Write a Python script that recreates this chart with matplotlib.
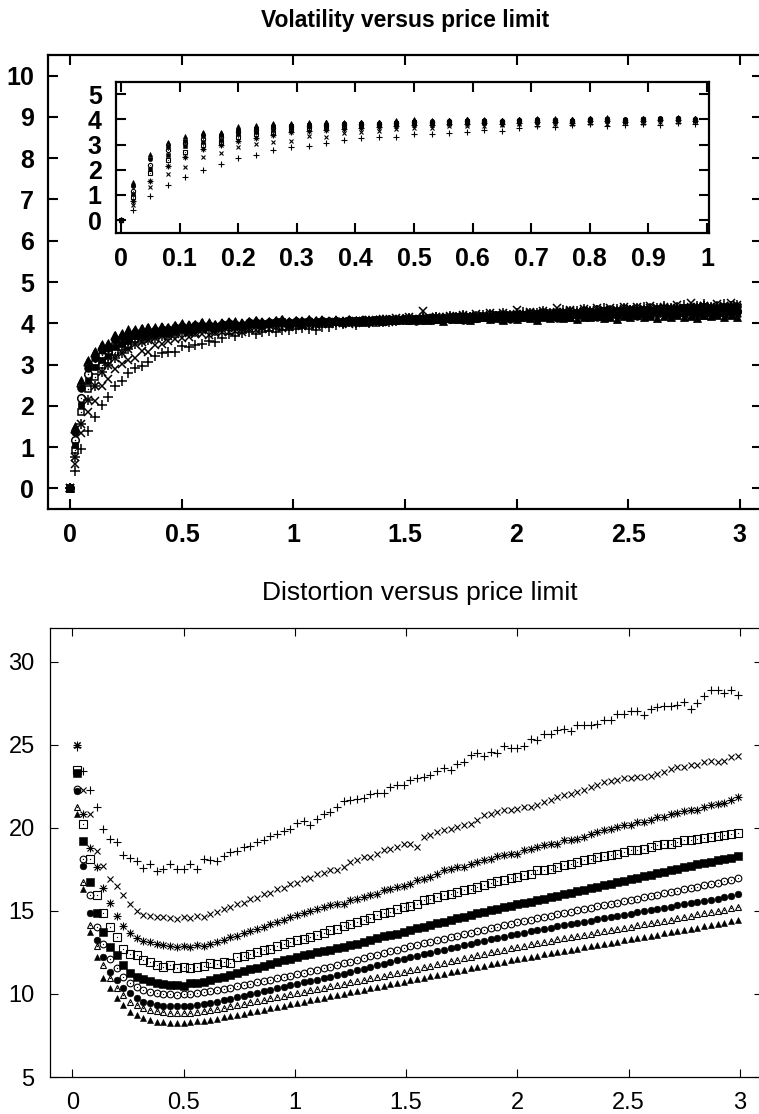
import matplotlib
matplotlib.use("Agg")
import matplotlib.pyplot as plt

plt.rcParams['font.family'] = ['Liberation Sans', 'DejaVu Sans']

# ---------------- data ----------------
x_grid = [
    0.02, 0.05, 0.08, 0.11, 0.14, 0.17, 0.20, 0.23, 0.26, 0.29,
    0.32, 0.35, 0.38, 0.41, 0.44, 0.47, 0.50, 0.53, 0.56, 0.59,
    0.62, 0.65, 0.68, 0.71, 0.74, 0.77, 0.80, 0.83, 0.86, 0.89,
    0.92, 0.95, 0.98, 1.01, 1.04, 1.07, 1.10, 1.13, 1.16, 1.19,
    1.22, 1.25, 1.28, 1.31, 1.34, 1.37, 1.40, 1.43, 1.46, 1.49,
    1.52, 1.55, 1.58, 1.61, 1.64, 1.67, 1.70, 1.73, 1.76, 1.79,
    1.82, 1.85, 1.88, 1.91, 1.94, 1.97, 2.00, 2.03, 2.06, 2.09,
    2.12, 2.15, 2.18, 2.21, 2.24, 2.27, 2.30, 2.33, 2.36, 2.39,
    2.42, 2.45, 2.48, 2.51, 2.54, 2.57, 2.60, 2.63, 2.66, 2.69,
    2.72, 2.75, 2.78, 2.81, 2.84, 2.87, 2.90, 2.93, 2.96, 2.99,
]
vol_x = [0.0] + x_grid

# Volatility (top) -- first value is x = 0
vol_plus = [0.0,
    0.41, 0.95, 1.39, 1.73, 2.01, 2.22, 2.47, 2.60, 2.80, 2.91,
    2.96, 3.07, 3.20, 3.28, 3.30, 3.31, 3.44, 3.42, 3.47, 3.50,
    3.57, 3.55, 3.65, 3.73, 3.70, 3.76, 3.80, 3.74, 3.78, 3.82,
    3.79, 3.84, 3.83, 3.86, 3.88, 3.85, 3.84, 3.90, 3.92, 3.95,
    3.98, 4.02, 3.97, 4.05, 4.00, 4.06, 4.03, 4.08, 4.05, 4.10,
    4.12, 4.07, 4.14, 4.10, 4.15, 4.12, 4.18, 4.14, 4.20, 4.16,
    4.13, 4.20, 4.22, 4.18, 4.25, 4.20, 4.24, 4.27, 4.22, 4.26,
    4.30, 4.25, 4.28, 4.32, 4.27, 4.30, 4.34, 4.29, 4.33, 4.36,
    4.30, 4.35, 4.38, 4.33, 4.37, 4.40, 4.35, 4.38, 4.42, 4.36,
    4.40, 4.44, 4.38, 4.42, 4.46, 4.40, 4.43, 4.47, 4.41, 4.45]
vol_cross = [0.0,
    0.60, 1.33, 1.85, 2.12, 2.49, 2.65, 2.89, 3.02, 3.12, 3.15,
    3.33, 3.30, 3.48, 3.50, 3.56, 3.62, 3.65, 3.66, 3.73, 3.74,
    3.72, 3.77, 3.80, 3.78, 3.82, 3.80, 3.85, 3.83, 3.88, 3.86,
    3.90, 3.88, 3.92, 3.95, 3.93, 3.97, 3.95, 3.99, 3.98, 4.00,
    4.04, 3.99, 4.06, 4.02, 4.08, 4.04, 4.10, 4.05, 4.12, 4.08,
    4.14, 4.10, 4.30, 4.12, 4.16, 4.11, 4.18, 4.14, 4.20, 4.15,
    4.22, 4.18, 4.24, 4.19, 4.26, 4.21, 4.32, 4.23, 4.28, 4.24,
    4.30, 4.26, 4.36, 4.28, 4.32, 4.27, 4.34, 4.30, 4.36, 4.31,
    4.38, 4.33, 4.40, 4.34, 4.39, 4.35, 4.42, 4.36, 4.40, 4.37,
    4.44, 4.38, 4.48, 4.40, 4.43, 4.39, 4.46, 4.41, 4.50, 4.44]
vol_star = [0.0,
    0.76, 1.55, 2.15, 2.49, 2.82, 3.00, 3.15, 3.28, 3.38, 3.50,
    3.55, 3.60, 3.64, 3.68, 3.70, 3.74, 3.78, 3.76, 3.80, 3.83,
    3.85, 3.82, 3.87, 3.90, 3.88, 3.87, 3.92, 3.94, 3.90, 3.95,
    3.96, 3.98, 3.94, 3.98, 3.97, 4.00, 3.99, 4.01, 4.00, 4.02,
    4.00, 4.04, 4.01, 4.06, 4.03, 4.05, 4.08, 4.04, 4.09, 4.07,
    4.11, 4.08, 4.12, 4.10, 4.14, 4.11, 4.15, 4.12, 4.17, 4.14,
    4.18, 4.15, 4.20, 4.17, 4.21, 4.18, 4.23, 4.20, 4.24, 4.21,
    4.26, 4.23, 4.27, 4.24, 4.29, 4.25, 4.30, 4.27, 4.31, 4.28,
    4.33, 4.29, 4.34, 4.31, 4.35, 4.32, 4.37, 4.33, 4.36, 4.34,
    4.38, 4.35, 4.39, 4.36, 4.41, 4.37, 4.40, 4.38, 4.42, 4.40]
vol_open_square = [0.0,
    0.92, 1.86, 2.40, 2.71, 3.00, 3.10, 3.30, 3.42, 3.48, 3.62,
    3.66, 3.70, 3.72, 3.76, 3.77, 3.82, 3.85, 3.84, 3.87, 3.90,
    3.91, 3.88, 3.93, 3.95, 3.94, 3.92, 3.97, 3.99, 3.95, 3.99,
    4.00, 4.02, 3.97, 4.01, 4.00, 4.03, 4.01, 4.03, 4.02, 4.03,
    4.01, 4.05, 4.02, 4.06, 4.04, 4.07, 4.03, 4.08, 4.06, 4.09,
    4.07, 4.11, 4.08, 4.12, 4.10, 4.13, 4.11, 4.15, 4.12, 4.16,
    4.13, 4.17, 4.15, 4.19, 4.16, 4.20, 4.18, 4.21, 4.19, 4.22,
    4.20, 4.24, 4.21, 4.25, 4.23, 4.26, 4.24, 4.28, 4.25, 4.29,
    4.26, 4.30, 4.28, 4.31, 4.29, 4.33, 4.30, 4.34, 4.31, 4.35,
    4.32, 4.36, 4.33, 4.37, 4.34, 4.38, 4.35, 4.37, 4.34, 4.36]
vol_filled_square = [0.0,
    1.04, 2.02, 2.60, 2.94, 3.10, 3.20, 3.42, 3.50, 3.58, 3.68,
    3.72, 3.74, 3.77, 3.80, 3.80, 3.85, 3.88, 3.87, 3.90, 3.92,
    3.93, 3.90, 3.95, 3.97, 3.96, 3.94, 3.99, 4.00, 3.97, 4.00,
    4.01, 4.03, 3.99, 4.02, 4.01, 4.04, 4.02, 4.04, 4.03, 4.04,
    4.06, 4.03, 4.07, 4.05, 4.08, 4.06, 4.09, 4.07, 4.10, 4.08,
    4.11, 4.09, 4.12, 4.10, 4.13, 4.11, 4.14, 4.12, 4.15, 4.13,
    4.16, 4.14, 4.17, 4.15, 4.18, 4.16, 4.19, 4.17, 4.20, 4.18,
    4.21, 4.19, 4.22, 4.20, 4.23, 4.21, 4.24, 4.22, 4.25, 4.23,
    4.26, 4.24, 4.27, 4.25, 4.28, 4.26, 4.29, 4.27, 4.30, 4.28,
    4.31, 4.29, 4.32, 4.30, 4.33, 4.31, 4.34, 4.32, 4.35, 4.33]
vol_open_circle = [0.0,
    1.16, 2.20, 2.78, 3.05, 3.22, 3.30, 3.50, 3.58, 3.65, 3.72,
    3.75, 3.78, 3.80, 3.82, 3.82, 3.87, 3.90, 3.89, 3.92, 3.94,
    3.94, 3.92, 3.96, 3.98, 3.97, 3.95, 4.00, 4.01, 3.98, 4.01,
    4.02, 4.04, 4.00, 4.03, 4.02, 4.05, 4.03, 4.05, 4.04, 4.05,
    4.03, 4.06, 4.04, 4.07, 4.05, 4.08, 4.06, 4.09, 4.07, 4.10,
    4.08, 4.11, 4.09, 4.12, 4.10, 4.13, 4.11, 4.14, 4.12, 4.15,
    4.13, 4.16, 4.14, 4.17, 4.15, 4.18, 4.16, 4.19, 4.17, 4.20,
    4.18, 4.21, 4.19, 4.16, 4.20, 4.23, 4.21, 4.24, 4.22, 4.25,
    4.23, 4.26, 4.24, 4.27, 4.25, 4.22, 4.26, 4.28, 4.26, 4.29,
    4.27, 4.30, 4.28, 4.31, 4.29, 4.24, 4.30, 4.32, 4.29, 4.30]
vol_filled_circle = [0.0,
    1.36, 2.43, 2.92, 3.16, 3.35, 3.40, 3.60, 3.66, 3.72, 3.78,
    3.80, 3.82, 3.84, 3.86, 3.85, 3.90, 3.93, 3.92, 3.95, 3.97,
    3.96, 3.94, 3.98, 4.00, 3.99, 3.97, 4.02, 4.03, 4.00, 4.02,
    4.04, 4.05, 4.02, 4.05, 4.03, 4.06, 4.04, 4.06, 4.05, 4.06,
    4.04, 4.07, 4.05, 4.08, 4.03, 4.09, 4.06, 4.10, 4.07, 4.11,
    4.08, 4.05, 4.12, 4.09, 4.13, 4.10, 4.14, 4.11, 4.08, 4.15,
    4.12, 4.16, 4.13, 4.17, 4.14, 4.10, 4.18, 4.15, 4.19, 4.16,
    4.20, 4.17, 4.13, 4.21, 4.18, 4.22, 4.19, 4.23, 4.15, 4.20,
    4.24, 4.21, 4.25, 4.22, 4.18, 4.26, 4.23, 4.27, 4.24, 4.20,
    4.28, 4.25, 4.29, 4.26, 4.22, 4.27, 4.30, 4.25, 4.28, 4.27]
vol_open_triangle = [0.0,
    1.45, 2.55, 3.05, 3.28, 3.45, 3.48, 3.68, 3.72, 3.80, 3.82,
    3.85, 3.88, 3.87, 3.90, 3.88, 3.93, 3.96, 3.95, 3.97, 4.00,
    3.99, 3.96, 4.00, 4.02, 4.01, 4.00, 4.04, 4.05, 4.02, 4.04,
    4.06, 4.07, 4.04, 4.06, 4.05, 4.08, 4.05, 4.07, 4.06, 4.07,
    4.05, 4.08, 4.06, 4.09, 4.07, 4.04, 4.10, 4.08, 4.11, 4.09,
    4.12, 4.10, 4.07, 4.13, 4.11, 4.14, 4.12, 4.15, 4.10, 4.13,
    4.16, 4.14, 4.17, 4.15, 4.11, 4.18, 4.16, 4.19, 4.17, 4.14,
    4.20, 4.18, 4.21, 4.19, 4.16, 4.22, 4.20, 4.23, 4.18, 4.21,
    4.24, 4.22, 4.19, 4.25, 4.23, 4.26, 4.21, 4.24, 4.27, 4.22,
    4.25, 4.28, 4.23, 4.26, 4.21, 4.27, 4.24, 4.28, 4.22, 4.24]
vol_filled_triangle = [0.0,
    1.52, 2.62, 3.10, 3.33, 3.50, 3.52, 3.72, 3.76, 3.85, 3.86,
    3.88, 3.90, 3.90, 3.91, 3.90, 3.96, 4.00, 3.97, 3.99, 4.03,
    4.02, 3.98, 4.00, 4.04, 4.05, 4.01, 4.06, 4.08, 4.03, 4.05,
    4.07, 4.10, 4.05, 4.08, 4.06, 4.10, 4.07, 4.09, 4.06, 4.08,
    4.05, 4.10, 4.07, 4.04, 4.09, 4.11, 4.06, 4.10, 4.08, 4.12,
    4.07, 4.10, 4.13, 4.08, 4.11, 4.06, 4.12, 4.10, 4.14, 4.09,
    4.12, 4.15, 4.10, 4.13, 4.08, 4.14, 4.11, 4.16, 4.12, 4.09,
    4.15, 4.13, 4.17, 4.12, 4.15, 4.10, 4.16, 4.14, 4.18, 4.13,
    4.16, 4.11, 4.17, 4.15, 4.19, 4.14, 4.17, 4.12, 4.18, 4.16,
    4.20, 4.15, 4.18, 4.13, 4.19, 4.17, 4.21, 4.16, 4.19, 4.14]

# Distortion (bottom)
dist_plus = [
    24.85, 23.41, 22.25, 21.25, 19.95, 19.35, 19.14, 18.34, 18.20, 18.00,
    17.60, 17.80, 17.40, 17.54, 17.80, 17.54, 17.54, 17.80, 17.54, 18.14,
    18.04, 18.00, 18.28, 18.54, 18.60, 18.84, 18.90, 19.14, 19.24, 19.48,
    19.62, 19.80, 19.95, 20.28, 20.38, 20.14, 20.55, 20.80, 20.94, 21.25,
    21.60, 21.65, 21.70, 21.80, 22.00, 22.09, 22.10, 22.45, 22.60, 22.55,
    22.85, 22.99, 23.05, 23.15, 23.39, 23.59, 23.45, 23.85, 23.93, 24.35,
    24.49, 24.31, 24.55, 24.49, 24.89, 24.81, 24.81, 24.89, 25.35, 25.29,
    25.65, 25.65, 25.89, 25.95, 25.85, 26.19, 26.19, 26.19, 26.25, 26.51,
    26.51, 26.86, 26.86, 27.00, 27.00, 26.81, 27.16, 27.26, 27.30, 27.30,
    27.36, 27.56, 27.16, 27.50, 27.90, 28.26, 28.30, 28.10, 28.30, 27.96]
dist_cross = [
    25.00, 22.25, 20.85, 18.60, 17.70, 16.94, 16.50, 15.94, 15.44, 15.00,
    14.75, 14.70, 14.65, 14.60, 14.55, 14.50, 14.60, 14.55, 14.70, 14.65,
    14.80, 14.95, 15.10, 15.25, 15.40, 15.50, 15.70, 15.80, 16.00, 16.10,
    16.30, 16.40, 16.60, 16.70, 16.90, 17.00, 17.20, 17.30, 17.48, 17.48,
    17.64, 17.94, 18.04, 18.24, 18.24, 18.44, 18.64, 18.74, 18.84, 19.00,
    19.04, 18.84, 19.44, 19.54, 19.74, 19.84, 19.94, 20.04, 20.14, 20.24,
    20.44, 20.74, 20.84, 20.94, 21.04, 21.04, 21.14, 21.24, 21.24, 21.34,
    21.54, 21.68, 21.84, 21.94, 22.04, 22.14, 22.24, 22.44, 22.60, 22.74,
    22.80, 22.88, 22.98, 22.98, 23.04, 23.04, 23.14, 23.24, 23.34, 23.54,
    23.64, 23.68, 23.80, 23.80, 23.94, 24.04, 23.94, 24.04, 24.24, 24.34]
dist_star = [
    25.00, 20.85, 18.80, 17.64, 16.36, 15.46, 14.66, 14.10, 13.66, 13.36,
    13.20, 13.10, 13.00, 12.95, 12.90, 12.85, 12.90, 12.85, 12.95, 12.90,
    13.00, 13.10, 13.25, 13.40, 13.50, 13.65, 13.80, 13.90, 14.05, 14.20,
    14.30, 14.45, 14.60, 14.75, 14.85, 15.00, 15.10, 15.25, 15.34, 15.44,
    15.44, 15.64, 15.74, 15.84, 15.94, 16.04, 16.24, 16.34, 16.44, 16.48,
    16.64, 16.84, 16.94, 17.04, 17.24, 17.44, 17.54, 17.64, 17.64, 17.84,
    17.94, 18.04, 18.14, 18.28, 18.34, 18.44, 18.44, 18.64, 18.74, 18.84,
    18.94, 19.04, 19.04, 19.24, 19.28, 19.34, 19.44, 19.64, 19.74, 19.84,
    19.94, 20.04, 20.14, 20.14, 20.34, 20.34, 20.44, 20.64, 20.64, 20.84,
    20.88, 21.00, 21.08, 21.04, 21.24, 21.34, 21.44, 21.48, 21.68, 21.84]
dist_open_square = [
    23.50, 20.20, 18.14, 15.94, 14.84, 14.00, 13.43, 12.73, 12.43, 12.33,
    12.03, 11.93, 11.73, 11.63, 11.73, 11.53, 11.63, 11.57, 11.63, 11.67,
    11.83, 11.79, 11.93, 11.87, 12.23, 12.27, 12.43, 12.53, 12.63, 12.73,
    12.87, 12.99, 13.13, 13.23, 13.33, 13.43, 13.53, 13.67, 13.85, 13.93,
    14.07, 14.23, 14.33, 14.47, 14.59, 14.73, 14.84, 14.94, 15.08, 15.24,
    15.30, 15.44, 15.64, 15.74, 15.84, 15.94, 16.04, 16.14, 16.24, 16.34,
    16.44, 16.54, 16.68, 16.80, 16.88, 17.00, 17.04, 17.14, 17.24, 17.44,
    17.48, 17.54, 17.64, 17.74, 17.84, 17.94, 18.04, 18.14, 18.24, 18.28,
    18.34, 18.44, 18.54, 18.64, 18.68, 18.74, 18.84, 18.94, 19.00, 19.04,
    19.14, 19.24, 19.28, 19.34, 19.40, 19.44, 19.48, 19.54, 19.64, 19.68]
dist_filled_square = [
    23.30, 19.18, 16.74, 14.84, 13.73, 12.83, 12.33, 11.73, 11.23, 11.03,
    10.87, 10.79, 10.63, 10.59, 10.53, 10.53, 10.47, 10.63, 10.63, 10.73,
    10.83, 10.93, 11.03, 11.13, 11.23, 11.37, 11.47, 11.57, 11.67, 11.79,
    11.93, 12.03, 12.13, 12.23, 12.33, 12.43, 12.53, 12.60, 12.67, 12.76,
    12.85, 12.93, 13.03, 13.14, 13.25, 13.36, 13.47, 13.56, 13.63, 13.72,
    13.84, 13.95, 14.05, 14.15, 14.25, 14.35, 14.45, 14.55, 14.64, 14.74,
    14.84, 14.93, 15.02, 15.11, 15.20, 15.29, 15.38, 15.47, 15.56, 15.65,
    15.74, 15.83, 15.92, 16.01, 16.10, 16.19, 16.28, 16.37, 16.46, 16.55,
    16.64, 16.73, 16.82, 16.91, 17.00, 17.09, 17.18, 17.27, 17.36, 17.45,
    17.54, 17.63, 17.72, 17.80, 17.88, 17.96, 18.04, 18.12, 18.20, 18.28]
dist_open_circle = [
    22.30, 18.14, 15.94, 14.00, 13.03, 12.13, 11.53, 11.03, 10.63, 10.43,
    10.25, 10.13, 10.05, 10.00, 9.97, 9.95, 9.97, 10.00, 10.05, 10.10,
    10.16, 10.23, 10.30, 10.38, 10.46, 10.54, 10.62, 10.70, 10.78, 10.86,
    10.94, 11.02, 11.10, 11.18, 11.27, 11.36, 11.45, 11.54, 11.63, 11.73,
    11.84, 11.95, 12.06, 12.16, 12.26, 12.36, 12.46, 12.56, 12.66, 12.76,
    12.86, 12.95, 13.04, 13.13, 13.22, 13.31, 13.40, 13.49, 13.58, 13.67,
    13.76, 13.85, 13.94, 14.03, 14.12, 14.21, 14.30, 14.38, 14.46, 14.54,
    14.62, 14.70, 14.78, 14.86, 14.94, 15.02, 15.10, 15.18, 15.26, 15.34,
    15.42, 15.50, 15.58, 15.66, 15.74, 15.82, 15.90, 15.98, 16.06, 16.14,
    16.22, 16.30, 16.38, 16.46, 16.54, 16.62, 16.70, 16.78, 16.88, 16.98]
dist_filled_circle = [
    22.20, 17.68, 14.84, 13.23, 12.20, 11.33, 10.83, 10.33, 10.03, 9.73,
    9.53, 9.43, 9.35, 9.30, 9.27, 9.25, 9.27, 9.30, 9.33, 9.39,
    9.45, 9.53, 9.61, 9.70, 9.79, 9.88, 9.97, 10.06, 10.15, 10.24,
    10.33, 10.42, 10.51, 10.60, 10.69, 10.78, 10.86, 10.94, 11.02, 11.12,
    11.22, 11.32, 11.42, 11.52, 11.62, 11.72, 11.82, 11.92, 12.02, 12.11,
    12.20, 12.29, 12.38, 12.47, 12.56, 12.65, 12.74, 12.83, 12.92, 13.01,
    13.10, 13.19, 13.28, 13.37, 13.45, 13.53, 13.61, 13.69, 13.77, 13.85,
    13.92, 13.99, 14.06, 14.13, 14.20, 14.27, 14.34, 14.41, 14.48, 14.55,
    14.62, 14.69, 14.76, 14.83, 14.90, 14.97, 15.04, 15.11, 15.18, 15.25,
    15.32, 15.39, 15.46, 15.53, 15.60, 15.67, 15.74, 15.81, 15.90, 16.00]
dist_open_triangle = [
    21.25, 16.74, 14.13, 12.90, 11.73, 10.93, 10.33, 9.93, 9.53, 9.33,
    9.13, 9.03, 8.95, 8.90, 8.87, 8.85, 8.86, 8.88, 8.92, 8.97,
    9.03, 9.10, 9.17, 9.25, 9.33, 9.41, 9.49, 9.57, 9.65, 9.73,
    9.81, 9.89, 9.97, 10.05, 10.13, 10.21, 10.29, 10.37, 10.45, 10.53,
    10.61, 10.69, 10.77, 10.85, 10.93, 11.01, 11.09, 11.17, 11.25, 11.33,
    11.42, 11.51, 11.60, 11.69, 11.78, 11.87, 11.96, 12.05, 12.14, 12.23,
    12.32, 12.41, 12.50, 12.59, 12.67, 12.75, 12.83, 12.91, 12.99, 13.07,
    13.14, 13.21, 13.28, 13.35, 13.42, 13.49, 13.56, 13.63, 13.70, 13.77,
    13.84, 13.91, 13.98, 14.05, 14.12, 14.19, 14.26, 14.33, 14.40, 14.47,
    14.55, 14.63, 14.71, 14.79, 14.86, 14.93, 15.00, 15.07, 15.15, 15.24]
dist_filled_triangle = [
    20.85, 16.34, 13.73, 12.23, 10.93, 10.33, 9.73, 9.33, 8.93, 8.73,
    8.53, 8.43, 8.33, 8.28, 8.25, 8.25, 8.27, 8.30, 8.34, 8.39,
    8.45, 8.52, 8.59, 8.66, 8.74, 8.82, 8.90, 8.98, 9.06, 9.14,
    9.22, 9.30, 9.38, 9.46, 9.54, 9.62, 9.70, 9.78, 9.86, 9.94,
    10.02, 10.10, 10.18, 10.26, 10.34, 10.42, 10.50, 10.58, 10.66, 10.74,
    10.82, 10.90, 10.98, 11.06, 11.14, 11.22, 11.30, 11.38, 11.46, 11.54,
    11.62, 11.70, 11.78, 11.86, 11.94, 12.02, 12.10, 12.17, 12.24, 12.31,
    12.38, 12.45, 12.52, 12.59, 12.66, 12.73, 12.80, 12.87, 12.94, 13.01,
    13.08, 13.15, 13.22, 13.29, 13.36, 13.43, 13.50, 13.57, 13.64, 13.71,
    13.78, 13.85, 13.92, 13.99, 14.06, 14.13, 14.20, 14.27, 14.36, 14.47]

point_types = ["plus", "cross", "star", "open_square", "filled_square",
               "open_circle", "filled_circle", "open_triangle", "filled_triangle"]
vol_series = [vol_plus, vol_cross, vol_star, vol_open_square, vol_filled_square,
              vol_open_circle, vol_filled_circle, vol_open_triangle, vol_filled_triangle]
dist_series = [dist_plus, dist_cross, dist_star, dist_open_square, dist_filled_square,
               dist_open_circle, dist_filled_circle, dist_open_triangle, dist_filled_triangle]

main_xticks = [0, 0.5, 1, 1.5, 2, 2.5, 3]
main_xlabels = ["0", "0.5", "1", "1.5", "2", "2.5", "3"]
vol_yticks = [0, 1, 2, 3, 4, 5, 6, 7, 8, 9, 10]
inset_xticks = [0, 0.1, 0.2, 0.3, 0.4, 0.5, 0.6, 0.7, 0.8, 0.9, 1]
inset_xlabels = ["0", "0.1", "0.2", "0.3", "0.4", "0.5", "0.6", "0.7", "0.8", "0.9", "1"]
inset_yticks = [0, 1, 2, 3, 4, 5]
dist_yticks = [5, 10, 15, 20, 25, 30]


def draw(ax, xs, ys, kind, s, lw, sq=0.95):
    common = dict(linestyle="none", color="black", clip_on=True)
    if kind == "plus":
        ax.plot(xs, ys, marker="+", ms=s * 1.25, mew=lw, **common)
    elif kind == "cross":
        ax.plot(xs, ys, marker="x", ms=s * 1.0, mew=lw, **common)
    elif kind == "star":
        ax.plot(xs, ys, marker="+", ms=s * 1.25, mew=lw, **common)
        ax.plot(xs, ys, marker="x", ms=s * 1.0, mew=lw, **common)
    else:
        shape = {"square": "s", "circle": "o", "triangle": "^"}[kind.split("_")[1]]
        size = s * (sq if shape == "s" else 1.05)
        if kind.startswith("open"):
            ax.plot(xs, ys, marker=shape, ms=size, mew=lw, mfc="none", mec="black",
                    **common)
            ax.plot(xs, ys, marker="o", ms=s * 0.2, mew=0, **common)
        else:
            ax.plot(xs, ys, marker=shape, ms=size, mew=lw * 0.5, **common)


W, H = 759.0, 1114.0
fig = plt.figure(figsize=(W / 100, H / 100), dpi=100)

# ---------- top: volatility ----------
ax1 = fig.add_axes([48 / W, 1 - 509 / H, (762 - 48) / W, (509 - 55) / H])
for kind, ys in zip(point_types, vol_series):
    draw(ax1, vol_x, ys, kind, 5.2, 1.1)
ax1.set_xlim(-0.1, 3.1)
ax1.set_ylim(-0.5, 10.5)
ax1.set_xticks(main_xticks, main_xlabels, fontweight="bold")
ax1.set_yticks(vol_yticks, [str(v) for v in vol_yticks], fontweight="bold")
ax1.tick_params(direction="in", top=True, right=True, length=7, width=1.5,
                labelsize=18, pad=10)
for sp in ax1.spines.values():
    sp.set_linewidth(1.6)

# inset
inset_n = 34
axi = fig.add_axes([115.7 / W, 1 - 232.7 / H, (709 - 115.7) / W, (232.7 - 81.7) / H])
for kind, ys in zip(point_types, vol_series):
    draw(axi, vol_x[:inset_n], ys[:inset_n], kind, 2.9, 0.8)
axi.set_xlim(-0.009, 1.0034)
axi.set_ylim(-0.5, 5.5)
axi.set_xticks(inset_xticks, inset_xlabels, fontweight="bold")
axi.set_yticks(inset_yticks, [str(v) for v in inset_yticks], fontweight="bold")
axi.tick_params(direction="in", top=True, right=True, length=7, width=1.5,
                labelsize=18, pad=10)
for sp in axi.spines.values():
    sp.set_linewidth(1.6)

fig.text(405 / W, 1 - 20 / H, "Volatility versus price limit", ha="center",
         va="center", fontsize=16.5, fontweight="bold")

# ---------- bottom: distortion ----------
ax2 = fig.add_axes([50 / W, 1 - 1077 / H, (762 - 50) / W, (1077 - 628.3) / H])
for kind, ys in zip(point_types, dist_series):
    draw(ax2, x_grid, ys, kind, 4.6, 0.8, sq=1.1)
ax2.set_xlim(-0.1, 3.1)
ax2.set_ylim(5, 32)
ax2.set_xticks(main_xticks, main_xlabels)
ax2.set_yticks(dist_yticks, [str(v) for v in dist_yticks])
ax2.tick_params(direction="in", top=True, right=True, length=6, width=0.8,
                labelsize=17, pad=11)
for sp in ax2.spines.values():
    sp.set_linewidth(0.9)

fig.text(420 / W, 1 - 593 / H, "Distortion versus price limit", ha="center",
         va="center", fontsize=19)

fig.savefig("out.png", dpi=100)
